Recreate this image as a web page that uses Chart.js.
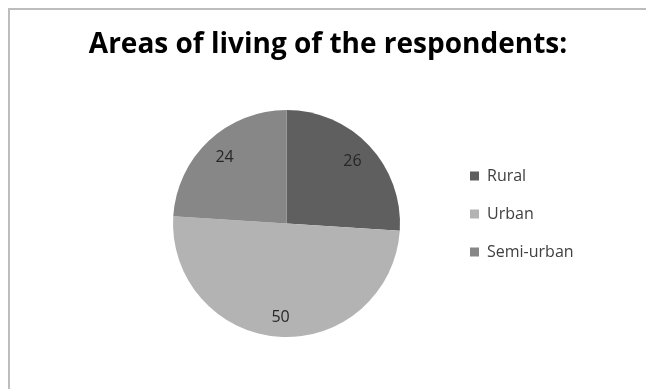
<!DOCTYPE html>
<html lang="en">

<head>
    <meta charset="UTF-8">
    <title>Areas of living of the respondents</title>
    <script src="https://cdn.jsdelivr.net/npm/chart.js"></script>
    <style>
        html, body { margin: 0; padding: 0; background: #fff; overflow: hidden; }
        #frame { position: absolute; left: 8px; top: 8px; width: 700px; height: 500px; border: 2px solid #bdbdbd; }
        #areasChart { position: absolute; left: 0; top: 0; }
    </style>
</head>

<body>
    <div id="frame"></div>
    <canvas id="areasChart" width="646" height="389"></canvas>

    <script>
        // chart data
        const areas = ['Rural', 'Urban', 'Semi-urban'];
        const respondents = [26, 50, 24];
        const sliceColors = ['#5f5f5f', '#b3b3b3', '#878787'];

        // draws the value inside each slice, near the outer edge (like Excel's labels)
        const sliceLabels = {
            id: 'sliceLabels',
            afterDatasetsDraw(chart) {
                const ctx = chart.ctx;
                const meta = chart.getDatasetMeta(0);
                ctx.save();
                ctx.font = '16px "Open Sans"';
                ctx.fillStyle = '#262626';
                ctx.textAlign = 'center';
                ctx.textBaseline = 'middle';
                meta.data.forEach((arc, i) => {
                    const p = arc.getProps(['x', 'y', 'startAngle', 'endAngle', 'outerRadius'], true);
                    const mid = (p.startAngle + p.endAngle) / 2;
                    const text = String(chart.data.datasets[0].data[i]);
                    const halfW = ctx.measureText(text).width / 2;
                    const halfH = 6.5;
                    const d = p.outerRadius - 12 - (Math.abs(Math.cos(mid)) * halfW + Math.abs(Math.sin(mid)) * halfH);
                    ctx.fillText(text, p.x + Math.cos(mid) * d, p.y + Math.sin(mid) * d);
                });
                ctx.restore();
            }
        };

        const ctx = document.getElementById('areasChart').getContext('2d');
        new Chart(ctx, {
            type: 'pie',
            data: {
                labels: areas,
                datasets: [{
                    data: respondents,
                    backgroundColor: sliceColors,
                    borderWidth: 0,
                    hoverOffset: 0
                }]
            },
            options: {
                responsive: false,
                animation: false,
                events: [],
                radius: 113.5,
                layout: {
                    padding: { left: 80, right: 70, top: 39, bottom: 0 }
                },
                plugins: {
                    title: {
                        display: true,
                        text: 'Areas of living of the respondents:',
                        color: '#000',
                        font: { family: '"Open Sans"', size: 28, weight: 'bold', lineHeight: '12px' },
                        padding: { top: 0, bottom: 7 }
                    },
                    // empty box on the left, only there to push the pie to the right
                    subtitle: {
                        display: true,
                        position: 'left',
                        text: '',
                        font: { size: 10, lineHeight: '10px' },
                        padding: { top: 35, bottom: 0 }
                    },
                    legend: {
                        position: 'right',
                        maxWidth: 128,
                        labels: {
                            color: '#404040',
                            font: { family: '"Open Sans"', size: 16 },
                            boxWidth: 9,
                            boxHeight: 9,
                            padding: 22
                        }
                    },
                    tooltip: { enabled: false }
                }
            },
            plugins: [sliceLabels]
        });
    </script>
</body>

</html>
